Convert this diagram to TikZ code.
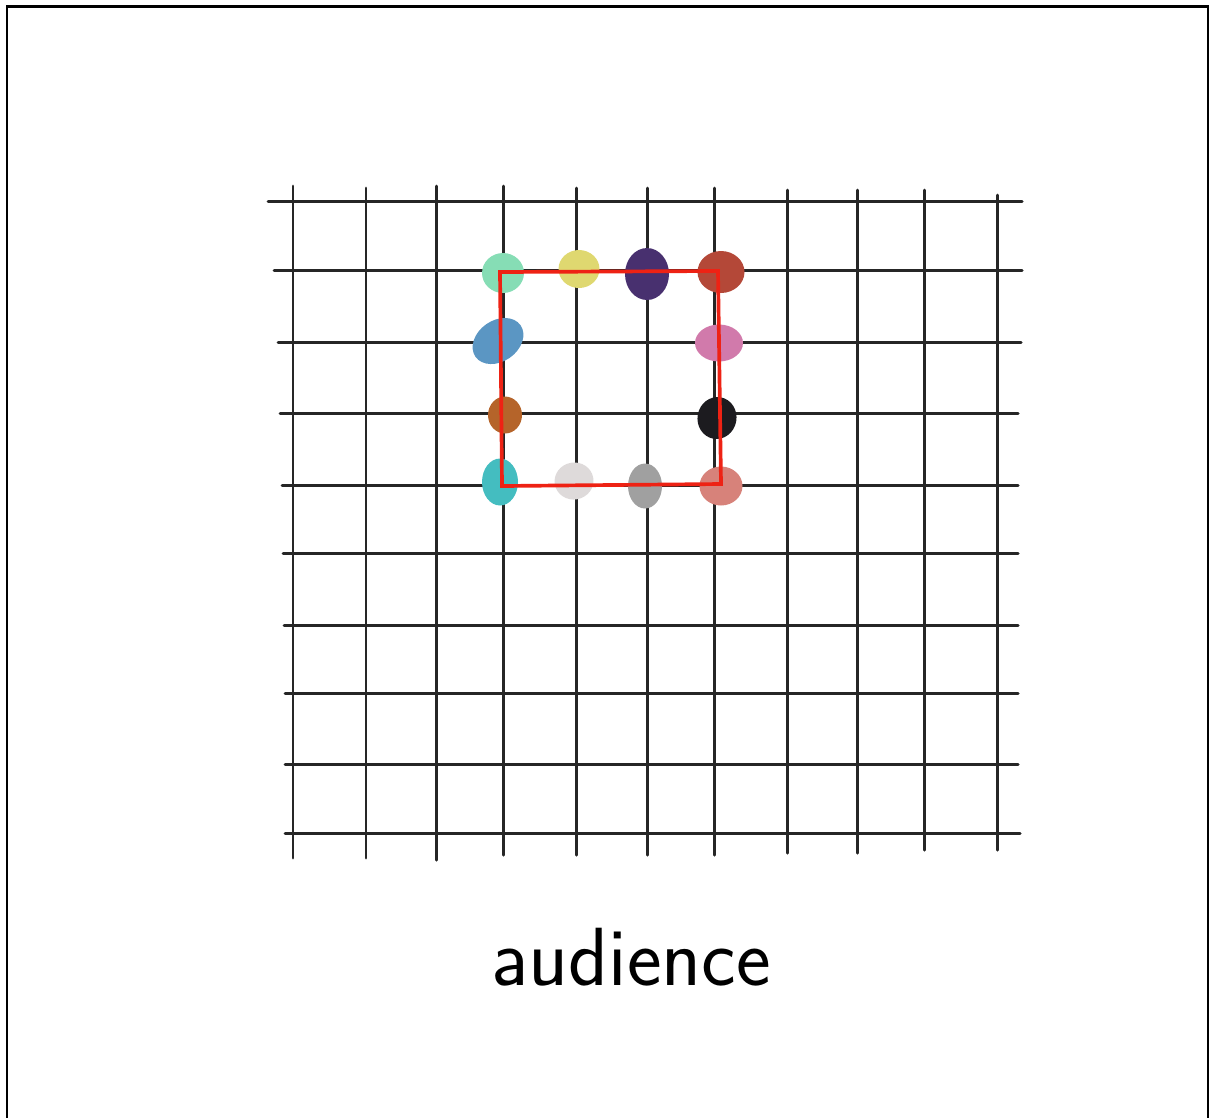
\documentclass[tikz,border=0pt]{standalone}
\usepackage{tikz}
\usetikzlibrary{shapes.geometric}

\definecolor{gridgray}{HTML}{262626}
\definecolor{boxred}{HTML}{EE2214}
\definecolor{mint}{HTML}{86DDB5}
\definecolor{straw}{HTML}{DFD870}
\definecolor{plum}{HTML}{48306F}
\definecolor{brick}{HTML}{B44838}
\definecolor{steel}{HTML}{5B96C3}
\definecolor{orchid}{HTML}{D17AAB}
\definecolor{rust}{HTML}{B5642A}
\definecolor{ink}{HTML}{1C1B1F}
\definecolor{teal}{HTML}{44BDC0}
\definecolor{mist}{HTML}{DEDADA}
\definecolor{ash}{HTML}{A0A0A0}
\definecolor{salmon}{HTML}{D7827A}

\begin{document}
\begin{tikzpicture}[
    x=0.02cm,y=-0.02cm,
    gridline/.style={line width=1.7pt,draw=gridgray,line cap=round},
    dot/.style={ellipse,inner sep=0pt,draw=none},
    redbox/.style={line width=2.1pt,draw=boxred,line join=miter}
]
\useasboundingbox (0,0) rectangle (1209,1117);
\draw[line width=1.7pt] (7,1120) -- (7,6) -- (1208,6) -- (1208,1120);

% seat rows and columns
\foreach \x/\t/\b in {293/186/858,366/188/858,436/186/860,503/186/855,576/188/855,
                      647/188/855,714/188/855,787/190/853,857/190/853,924/190/850,997/195/850}
    \draw[gridline] (\x,\t) -- (\x,\b);
\foreach \y/\l/\r in {201/268/1022,270/274/1022,342/278/1021,413/280/1018,485/282/1018,
                      553/283/1018,625/284/1018,693/285/1018,764/285/1018,833/285/1020}
    \draw[gridline] (\l,\y) -- (\r,\y);

% people
\node[dot,fill=mint,minimum width=0.84cm,minimum height=0.80cm] (p1) at (503,273) {};
\node[dot,fill=straw,minimum width=0.82cm,minimum height=0.76cm] (p2) at (579,269) {};
\node[dot,fill=plum,minimum width=0.88cm,minimum height=1.04cm] (p3) at (647,274) {};
\node[dot,fill=brick,minimum width=0.94cm,minimum height=0.84cm] (p4) at (721,272) {};
\node[dot,fill=steel,minimum width=1.10cm,minimum height=0.82cm,rotate=35] (p5) at (498,341) {};
\node[dot,fill=orchid,minimum width=0.96cm,minimum height=0.74cm] (p6) at (719,343) {};
\node[dot,fill=rust,minimum width=0.68cm,minimum height=0.74cm] (p7) at (505,415) {};
\node[dot,fill=ink,minimum width=0.78cm,minimum height=0.84cm,rotate=-10] (p8) at (717,418) {};
\node[dot,fill=teal,minimum width=0.72cm,minimum height=0.94cm] (p9) at (500,482) {};
\node[dot,fill=mist,minimum width=0.78cm,minimum height=0.74cm,rotate=10] (p10) at (574,481) {};
\node[dot,fill=ash,minimum width=0.68cm,minimum height=0.90cm] (p11) at (645,486) {};
\node[dot,fill=salmon,minimum width=0.86cm,minimum height=0.78cm] (p12) at (721,486) {};

% selection
\coordinate (tl) at (500,272);
\coordinate (tr) at (718,271);
\coordinate (br) at (721,484);
\coordinate (bl) at (502,486);
\draw[redbox] (tl) -- (tr) -- (br) -- (bl) -- cycle;

\node[font=\sffamily\fontsize{47}{52}\selectfont,inner sep=0pt,anchor=base] (aud) at (631,985) {audience};
\end{tikzpicture}
\end{document}
